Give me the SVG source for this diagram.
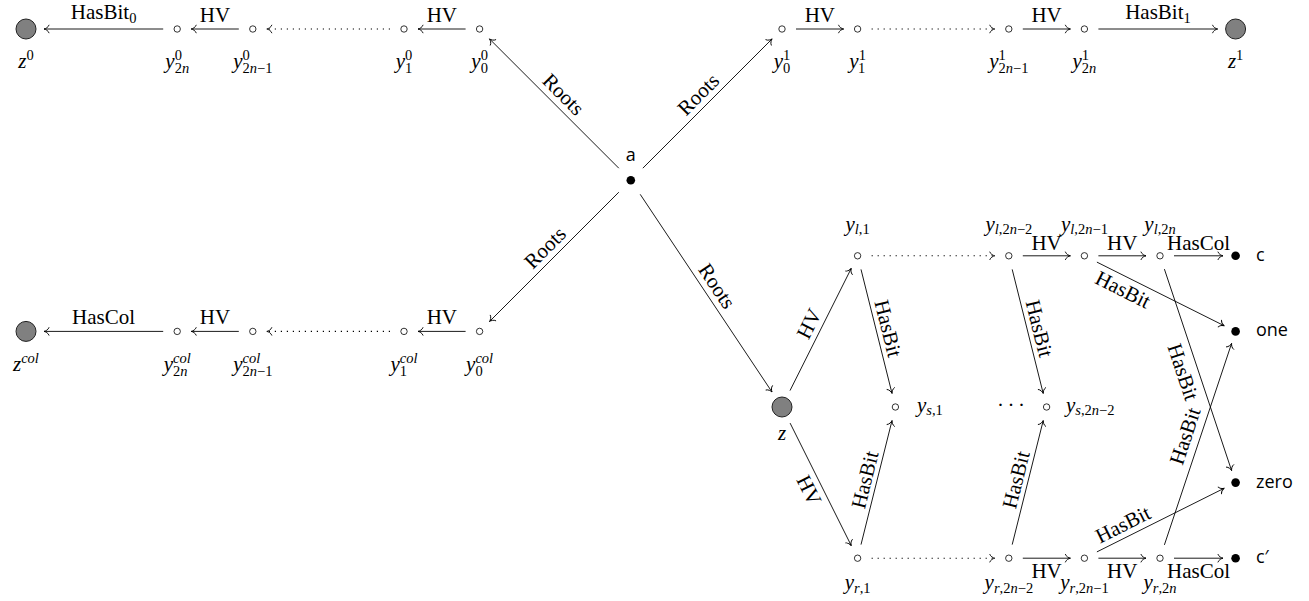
<svg xmlns="http://www.w3.org/2000/svg" width="1309" height="601" viewBox="0 0 1309 601">
<defs>
<marker id="ar" markerUnits="userSpaceOnUse" viewBox="-7 -6 9 12" refX="0" refY="0" markerWidth="9" markerHeight="12" orient="auto" overflow="visible">
<path d="M-5,-3.8 C-4.3,-1.6 -1.6,-0.35 0,0 C-1.6,0.35 -4.3,1.6 -5,3.8" fill="none" stroke="#000" stroke-width="0.9" stroke-linecap="round"/>
</marker>
<style>
.e{stroke:#000;stroke-width:0.9;fill:none;marker-end:url(#ar)}
.d{stroke-width:1.1;stroke-dasharray:1.2 4.8}
.big{fill:#808080;stroke:#222;stroke-width:1}
.sm{fill:#fff;stroke:#000;stroke-width:0.8}
.dot{fill:#000}
.m{font-family:"Liberation Serif",serif;font-size:21px;font-style:italic;fill:#000}
.s{font-size:14.5px;font-style:normal}
.si{font-size:14.5px;font-style:italic}
.el{font-family:"Liberation Serif",serif;font-size:21px;text-anchor:middle;fill:#000}
.es{font-size:14.5px}
.sf{font-family:"Open Sans","Liberation Sans",sans-serif;font-size:18px;fill:#000}
</style>
</defs>

<g id="connectors">
<line class="e" x1="163.2" y1="29" x2="44" y2="29"/>
<line class="e" x1="238.8" y1="29" x2="191.2" y2="29"/>
<line class="e d" x1="390" y1="29" x2="266.8" y2="29"/>
<line class="e" x1="465.6" y1="29" x2="418" y2="29"/>
<line class="e" x1="796" y1="29" x2="843.6" y2="29"/>
<line class="e d" x1="871.6" y1="29" x2="994.8" y2="29"/>
<line class="e" x1="1022.8" y1="29" x2="1070.4" y2="29"/>
<line class="e" x1="1098.4" y1="29" x2="1217.6" y2="29"/>
<line class="e" x1="163.2" y1="331.4" x2="44" y2="331.4"/>
<line class="e" x1="238.8" y1="331.4" x2="191.2" y2="331.4"/>
<line class="e d" x1="390" y1="331.4" x2="266.8" y2="331.4"/>
<line class="e" x1="465.6" y1="331.4" x2="418" y2="331.4"/>
<line class="e" x1="618.8" y1="168.2" x2="489.5" y2="38.9"/>
<line class="e" x1="642.8" y1="168.2" x2="772.1" y2="38.9"/>
<line class="e" x1="618.8" y1="192.2" x2="489.5" y2="321.5"/>
<line class="e" x1="640.2" y1="194.3" x2="772" y2="392"/>
<line class="e" x1="790" y1="390.6" x2="851.3" y2="268.3"/>
<line class="e" x1="790.1" y1="423.1" x2="851.3" y2="545.7"/>
<line class="e" x1="861" y1="269.4" x2="892" y2="393.4"/>
<line class="e" x1="861" y1="544.6" x2="892" y2="420.6"/>
<line class="e d" x1="871.6" y1="255.8" x2="994.8" y2="255.8"/>
<line class="e d" x1="871.6" y1="558.2" x2="994.8" y2="558.2"/>
<line class="e" x1="1012.2" y1="269.4" x2="1043.2" y2="393.4"/>
<line class="e" x1="1012.2" y1="544.6" x2="1043.2" y2="420.6"/>
<line class="e" x1="1022.8" y1="255.8" x2="1070.4" y2="255.8"/>
<line class="e" x1="1098.4" y1="255.8" x2="1146" y2="255.8"/>
<line class="e" x1="1174" y1="255.8" x2="1223" y2="255.8"/>
<line class="e" x1="1022.8" y1="558.2" x2="1070.4" y2="558.2"/>
<line class="e" x1="1098.4" y1="558.2" x2="1146" y2="558.2"/>
<line class="e" x1="1174" y1="558.2" x2="1223" y2="558.2"/>
<line class="e" x1="1096.9" y1="262.1" x2="1224.3" y2="325.8"/>
<line class="e" x1="1096.9" y1="551.9" x2="1224.3" y2="488.2"/>
<line class="e" x1="1164.4" y1="269.1" x2="1231.6" y2="470.6"/>
<line class="e" x1="1164.4" y1="544.9" x2="1231.6" y2="343.4"/>

<text class="el" x="103.6" y="19">HasBit<tspan class="es" dy="4">0</tspan></text>
<text class="el" x="215" y="22">HV</text>
<text class="el" x="441.8" y="22">HV</text>
<text class="el" x="819.8" y="22">HV</text>
<text class="el" x="1046.6" y="22">HV</text>
<text class="el" x="1158" y="19">HasBit<tspan class="es" dy="4">1</tspan></text>
<text class="el" x="103.6" y="324.4">HasCol</text>
<text class="el" x="215" y="324.4">HV</text>
<text class="el" x="441.8" y="324.4">HV</text>
<text class="el" transform="translate(563.4,94.4) rotate(45)" y="7">Roots</text>
<text class="el" transform="translate(698.3,94.4) rotate(-45)" y="7">Roots</text>
<text class="el" transform="translate(545,247.7) rotate(-45)" y="7">Roots</text>
<text class="el" transform="translate(716.9,286) rotate(56.3)" y="7">Roots</text>
<text class="el" transform="translate(809.1,323.7) rotate(-63.4)" y="7">HV</text>
<text class="el" transform="translate(809.1,490.2) rotate(63.4)" y="7">HV</text>
<text class="el" transform="translate(888.1,328.5) rotate(76)" y="7">HasBit</text>
<text class="el" transform="translate(864.9,479.7) rotate(-76)" y="7">HasBit</text>
<text class="el" transform="translate(1039.3,328.5) rotate(76)" y="7">HasBit</text>
<text class="el" transform="translate(1016.1,479.7) rotate(-76)" y="7">HasBit</text>
<text class="el" transform="translate(1123,289.6) rotate(26.6)" y="7">HasBit</text>
<text class="el" transform="translate(1123,524.4) rotate(-26.6)" y="7">HasBit</text>
<text class="el" transform="translate(1183,372) rotate(71.6)" y="7">HasBit</text>
<text class="el" transform="translate(1185,436) rotate(-71.6)" y="7">HasBit</text>
<text class="el" x="1046.6" y="249.5">HV</text>
<text class="el" x="1122.2" y="249.5">HV</text>
<text class="el" x="1198.5" y="249.5">HasCol</text>
<text class="el" x="1046.6" y="578">HV</text>
<text class="el" x="1122.2" y="578">HV</text>
<text class="el" x="1198.5" y="578">HasCol</text>
</g>

<g id="n-z0"><circle class="big" cx="26" cy="29" r="10"/><text class="m" x="18.3" y="67.6">z<tspan class="s" dy="-7.6">0</tspan></text></g>
<g id="n-y0-2n"><circle class="sm" cx="177.2" cy="29" r="3.2"/><text class="m" x="165.3" y="67.6">y<tspan class="s" dy="-7.6">0</tspan><tspan class="s" dx="-7.25" dy="12.8">2</tspan><tspan class="si">n</tspan></text></g>
<g id="n-y0-2n-1"><circle class="sm" cx="252.8" cy="29" r="3.2"/><text class="m" x="233.2" y="67.6">y<tspan class="s" dy="-7.6">0</tspan><tspan class="s" dx="-7.25" dy="12.8">2</tspan><tspan class="si">n</tspan><tspan class="s">−1</tspan></text></g>
<g id="n-y0-1"><circle class="sm" cx="404" cy="29" r="3.2"/><text class="m" x="395.7" y="67.6">y<tspan class="s" dy="-7.6">0</tspan><tspan class="s" dx="-7.25" dy="12.8">1</tspan></text></g>
<g id="n-y0-0"><circle class="sm" cx="479.6" cy="29" r="3.2"/><text class="m" x="471.3" y="67.6">y<tspan class="s" dy="-7.6">0</tspan><tspan class="s" dx="-7.25" dy="12.8">0</tspan></text></g>

<g id="n-y1-0"><circle class="sm" cx="782" cy="29" r="3.2"/><text class="m" x="773.7" y="67.6">y<tspan class="s" dy="-7.6">1</tspan><tspan class="s" dx="-7.25" dy="12.8">0</tspan></text></g>
<g id="n-y1-1"><circle class="sm" cx="857.6" cy="29" r="3.2"/><text class="m" x="849.3" y="67.6">y<tspan class="s" dy="-7.6">1</tspan><tspan class="s" dx="-7.25" dy="12.8">1</tspan></text></g>
<g id="n-y1-2n-1"><circle class="sm" cx="1008.8" cy="29" r="3.2"/><text class="m" x="989.2" y="67.6">y<tspan class="s" dy="-7.6">1</tspan><tspan class="s" dx="-7.25" dy="12.8">2</tspan><tspan class="si">n</tspan><tspan class="s">−1</tspan></text></g>
<g id="n-y1-2n"><circle class="sm" cx="1084.4" cy="29" r="3.2"/><text class="m" x="1072.5" y="67.6">y<tspan class="s" dy="-7.6">1</tspan><tspan class="s" dx="-7.25" dy="12.8">2</tspan><tspan class="si">n</tspan></text></g>
<g id="n-z1"><circle class="big" cx="1235.6" cy="29" r="10"/><text class="m" x="1227.9" y="67.6">z<tspan class="s" dy="-7.6">1</tspan></text></g>

<g id="n-a"><circle class="dot" cx="630.8" cy="180.2" r="4.3"/><text class="sf" x="630.8" y="161" text-anchor="middle">a</text></g>

<g id="n-zcol"><circle class="big" cx="26" cy="331.4" r="10"/><text class="m" x="13" y="370.6">z<tspan class="si" dy="-7.6">col</tspan></text></g>
<g id="n-ycol-2n"><circle class="sm" cx="177.2" cy="331.4" r="3.2"/><text class="m" x="163.7" y="370.6">y<tspan class="si" dy="-7.6">col</tspan><tspan class="s" dx="-17.7" dy="12.8">2</tspan><tspan class="si">n</tspan></text></g>
<g id="n-ycol-2n-1"><circle class="sm" cx="252.8" cy="331.4" r="3.2"/><text class="m" x="233.2" y="370.6">y<tspan class="si" dy="-7.6">col</tspan><tspan class="s" dx="-17.7" dy="12.8">2</tspan><tspan class="si">n</tspan><tspan class="s">−1</tspan></text></g>
<g id="n-ycol-1"><circle class="sm" cx="404" cy="331.4" r="3.2"/><text class="m" x="390.5" y="370.6">y<tspan class="si" dy="-7.6">col</tspan><tspan class="s" dx="-17.7" dy="12.8">1</tspan></text></g>
<g id="n-ycol-0"><circle class="sm" cx="479.6" cy="331.4" r="3.2"/><text class="m" x="466.1" y="370.6">y<tspan class="si" dy="-7.6">col</tspan><tspan class="s" dx="-17.7" dy="12.8">0</tspan></text></g>

<g id="n-z"><circle class="big" cx="782" cy="407" r="10"/><text class="m" x="777.9" y="440">z</text></g>
<g id="n-yl1"><circle class="sm" cx="857.6" cy="255.8" r="3.2"/><text class="m" x="845.5" y="230.5">y<tspan class="si" dy="3.5">l</tspan><tspan class="s">,1</tspan></text></g>
<g id="n-yl2n-2"><circle class="sm" cx="1008.8" cy="255.8" r="3.2"/><text class="m" x="985.4" y="230.5">y<tspan class="si" dy="3.5">l</tspan><tspan class="s">,2</tspan><tspan class="si">n</tspan><tspan class="s">−2</tspan></text></g>
<g id="n-yl2n-1"><circle class="sm" cx="1084.4" cy="255.8" r="3.2"/><text class="m" x="1061" y="230.5">y<tspan class="si" dy="3.5">l</tspan><tspan class="s">,2</tspan><tspan class="si">n</tspan><tspan class="s">−1</tspan></text></g>
<g id="n-yl2n"><circle class="sm" cx="1160" cy="255.8" r="3.2"/><text class="m" x="1144.3" y="230.5">y<tspan class="si" dy="3.5">l</tspan><tspan class="s">,2</tspan><tspan class="si">n</tspan></text></g>
<g id="n-ys1"><circle class="sm" cx="895.4" cy="407" r="3.2"/><text class="m" x="917" y="411.5">y<tspan class="si" dy="3.5">s</tspan><tspan class="s">,1</tspan></text></g>
<g id="n-cdots"><text class="m" style="font-style:normal;letter-spacing:3.5px" x="997" y="412">···</text></g>
<g id="n-ys2n-2"><circle class="sm" cx="1046.6" cy="407" r="3.2"/><text class="m" x="1066" y="411.5">y<tspan class="si" dy="3.5">s</tspan><tspan class="s">,2</tspan><tspan class="si">n</tspan><tspan class="s">−2</tspan></text></g>
<g id="n-yr1"><circle class="sm" cx="857.6" cy="558.2" r="3.2"/><text class="m" x="844.7" y="589">y<tspan class="si" dy="3.5">r</tspan><tspan class="s">,1</tspan></text></g>
<g id="n-yr2n-2"><circle class="sm" cx="1008.8" cy="558.2" r="3.2"/><text class="m" x="984.6" y="589">y<tspan class="si" dy="3.5">r</tspan><tspan class="s">,2</tspan><tspan class="si">n</tspan><tspan class="s">−2</tspan></text></g>
<g id="n-yr2n-1"><circle class="sm" cx="1084.4" cy="558.2" r="3.2"/><text class="m" x="1060.2" y="589">y<tspan class="si" dy="3.5">r</tspan><tspan class="s">,2</tspan><tspan class="si">n</tspan><tspan class="s">−1</tspan></text></g>
<g id="n-yr2n"><circle class="sm" cx="1160" cy="558.2" r="3.2"/><text class="m" x="1143.5" y="589">y<tspan class="si" dy="3.5">r</tspan><tspan class="s">,2</tspan><tspan class="si">n</tspan></text></g>

<g id="n-c"><circle class="dot" cx="1235.6" cy="255.8" r="4.3"/><text class="sf" x="1256" y="261">c</text></g>
<g id="n-one"><circle class="dot" cx="1235.6" cy="331.4" r="4.3"/><text class="sf" x="1256" y="336.4">one</text></g>
<g id="n-zero"><circle class="dot" cx="1235.6" cy="482.6" r="4.3"/><text class="sf" x="1256" y="487.6">zero</text></g>
<g id="n-cprime"><circle class="dot" cx="1235.6" cy="558.2" r="4.3"/><text class="sf" x="1256" y="563">c′</text></g>
</svg>
